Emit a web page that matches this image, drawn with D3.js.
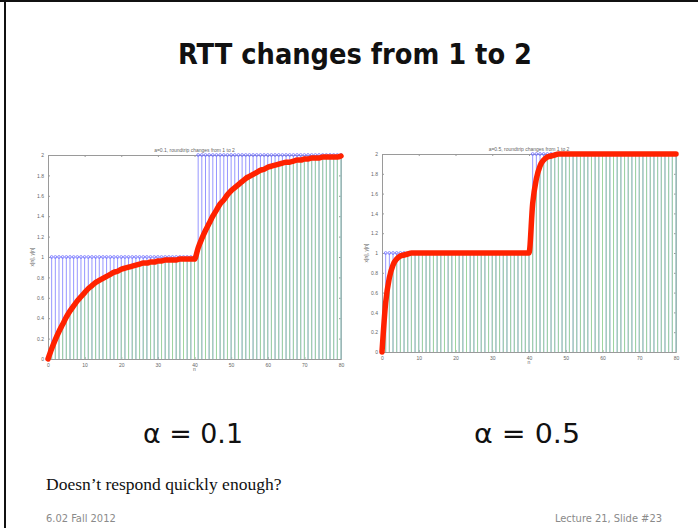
<!doctype html>
<html>
<head>
    <meta charset="utf-8">
    <style>
        body { margin: 0; background: #fff; }
        svg { display: block; }
        .slideTitle { font-family: 'DejaVu Sans Condensed', 'DejaVu Sans'; font-weight: bold; font-size: 28px; fill: #111; }
        .alpha { font-family: 'DejaVu Sans Condensed', 'DejaVu Sans'; font-size: 27px; fill: #111; }
        .note { font-family: 'Liberation Serif', serif; font-size: 17.5px; fill: #111; }
        .footer { font-family: 'DejaVu Sans Condensed', 'DejaVu Sans'; font-size: 11px; fill: #8a8a8a; }
        .axis text { font-family: 'Liberation Sans', Arial; font-size: 5px; fill: #666; }
        .axis path, .axis line { stroke: #9a9a9a; stroke-width: 1; }
        .small { font-family: 'Liberation Sans', Arial; font-size: 5px; fill: #666; }
    </style>
    <script src="https://d3js.org/d3.v7.min.js"></script>
</head>
<body>
<script>
    // sample index n = 0..80
    var n = d3.range(0, 81);

    // input x[n]: RTT samples, 1 then 2 after n = 40
    var xInput = [0,
        1,1,1,1,1,1,1,1,1,1, 1,1,1,1,1,1,1,1,1,1,
        1,1,1,1,1,1,1,1,1,1, 1,1,1,1,1,1,1,1,1,1,
        2,2,2,2,2,2,2,2,2,2, 2,2,2,2,2,2,2,2,2,2,
        2,2,2,2,2,2,2,2,2,2, 2,2,2,2,2,2,2,2,2,2];

    // smoothed estimate y[n], alpha = 0.1
    var ySlow = [0,
        0.10,0.19,0.27,0.34,0.41,0.47,0.52,0.57,0.61,0.65,
        0.69,0.72,0.75,0.77,0.79,0.81,0.83,0.85,0.86,0.88,
        0.89,0.90,0.91,0.92,0.93,0.94,0.94,0.95,0.95,0.96,
        0.96,0.97,0.97,0.97,0.97,0.98,0.98,0.98,0.98,0.98,
        1.09,1.18,1.26,1.33,1.40,1.46,1.52,1.56,1.61,1.65,
        1.68,1.71,1.74,1.77,1.79,1.81,1.83,1.85,1.86,1.88,
        1.89,1.90,1.91,1.92,1.93,1.93,1.94,1.95,1.95,1.96,
        1.96,1.97,1.97,1.97,1.98,1.98,1.98,1.98,1.98,1.99];

    // smoothed estimate y[n], alpha = 0.5
    var yFast = [0,
        0.50,0.75,0.88,0.94,0.97,0.98,0.99,1.00,1.00,1.00,
        1.00,1.00,1.00,1.00,1.00,1.00,1.00,1.00,1.00,1.00,
        1.00,1.00,1.00,1.00,1.00,1.00,1.00,1.00,1.00,1.00,
        1.00,1.00,1.00,1.00,1.00,1.00,1.00,1.00,1.00,1.00,
        1.50,1.75,1.88,1.94,1.97,1.98,1.99,2.00,2.00,2.00,
        2.00,2.00,2.00,2.00,2.00,2.00,2.00,2.00,2.00,2.00,
        2.00,2.00,2.00,2.00,2.00,2.00,2.00,2.00,2.00,2.00,
        2.00,2.00,2.00,2.00,2.00,2.00,2.00,2.00,2.00,2.00];

    var xTicks = [0, 10, 20, 30, 40, 50, 60, 70, 80];
    var yTicks = [0, 0.2, 0.4, 0.6, 0.8, 1, 1.2, 1.4, 1.6, 1.8, 2];

    var svg = d3.select("body").append("svg").attr("width", 698).attr("height", 528);

    // slide frame (only top and left edges show)
    svg.append("line").attr("x1", 0).attr("x2", 698).attr("y1", 1).attr("y2", 1)
        .attr("stroke", "#111").attr("stroke-width", 2);
    svg.append("line").attr("x1", 5).attr("x2", 5).attr("y1", 0).attr("y2", 528)
        .attr("stroke", "#111").attr("stroke-width", 2);

    svg.append("text").attr("class", "slideTitle")
        .attr("x", 178).attr("y", 64)
        .attr("textLength", 354).attr("lengthAdjust", "spacingAndGlyphs")
        .text("RTT changes from 1 to 2");

    function stemPlot(opts, y) {
        var g = svg.append("g");
        var xs = d3.scaleLinear().domain([0, 80]).range([opts.left, opts.right]);
        var ys = d3.scaleLinear().domain([0, 2]).range([opts.bottom, opts.top]);

        // box + ticks (inside, matlab style)
        g.append("g").attr("class", "axis")
            .attr("transform", "translate(0," + opts.bottom + ")")
            .call(d3.axisBottom(xs).tickValues(xTicks).tickSize(-2).tickSizeOuter(0).tickPadding(4));
        g.append("g").attr("class", "axis")
            .attr("transform", "translate(0," + opts.top + ")")
            .call(d3.axisTop(xs).tickValues(xTicks).tickSize(-2).tickSizeOuter(0).tickFormat(""));
        g.append("g").attr("class", "axis")
            .attr("transform", "translate(" + opts.left + ",0)")
            .call(d3.axisLeft(ys).tickValues(yTicks).tickSize(-2).tickSizeOuter(0).tickPadding(4).tickFormat(d3.format("~g")));
        g.append("g").attr("class", "axis")
            .attr("transform", "translate(" + opts.right + ",0)")
            .call(d3.axisRight(ys).tickValues(yTicks).tickSize(-2).tickSizeOuter(0).tickFormat(""));

        // x[n] stems
        g.selectAll(".xstem").data(n).enter().append("line")
            .attr("x1", function(d) { return xs(d); })
            .attr("x2", function(d) { return xs(d); })
            .attr("y1", ys(0))
            .attr("y2", function(d) { return ys(xInput[d]); })
            .attr("stroke", "#9696ff").attr("stroke-width", 1);
        g.selectAll(".xmark").data(n).enter().append("circle")
            .attr("cx", function(d) { return xs(d); })
            .attr("cy", function(d) { return ys(xInput[d]); })
            .attr("r", 1.4)
            .attr("fill", "none").attr("stroke", "#7070ff").attr("stroke-width", 0.8);

        // y[n] stems
        g.selectAll(".ystem").data(n).enter().append("line")
            .attr("x1", function(d) { return xs(d); })
            .attr("x2", function(d) { return xs(d); })
            .attr("y1", ys(0))
            .attr("y2", function(d) { return ys(y[d]); })
            .attr("stroke", "#9fd69f").attr("stroke-width", 1);
        g.selectAll(".ymark").data(n).enter().append("circle")
            .attr("cx", function(d) { return xs(d); })
            .attr("cy", function(d) { return ys(y[d]); })
            .attr("r", 1.4)
            .attr("fill", "none").attr("stroke", "#6fbf6f").attr("stroke-width", 0.8);

        // red trace
        var line = d3.line()
            .x(function(d) { return xs(d); })
            .y(function(d) { return ys(y[d]); })
            .curve(d3.curveMonotoneX);
        g.append("path").datum(n)
            .attr("d", line)
            .attr("fill", "none")
            .attr("stroke", "#ff2200")
            .attr("stroke-width", 5.5)
            .attr("stroke-linejoin", "round")
            .attr("stroke-linecap", "round");

        // labels
        g.append("text").attr("class", "small")
            .attr("x", (opts.left + opts.right) / 2).attr("y", opts.top - 3)
            .attr("text-anchor", "middle")
            .text(opts.title);
        g.append("text").attr("class", "small")
            .attr("transform", "translate(" + (opts.left - 14) + "," + ((opts.top + opts.bottom) / 2) + ") rotate(-90)")
            .attr("text-anchor", "middle")
            .text("x[n], y[n]");
        g.append("text").attr("class", "small")
            .attr("x", (opts.left + opts.right) / 2).attr("y", opts.bottom + 12)
            .attr("text-anchor", "middle")
            .text("n");
    }

    stemPlot({left: 48, right: 341, top: 155, bottom: 359, title: "a=0.1, roundtrip changes from 1 to 2"}, ySlow);
    stemPlot({left: 382, right: 676, top: 154, bottom: 352, title: "a=0.5, roundtrip changes from 1 to 2"}, yFast);

    svg.append("text").attr("class", "alpha")
        .attr("x", 143).attr("y", 443)
        .attr("textLength", 100).attr("lengthAdjust", "spacingAndGlyphs")
        .text("\u03b1 = 0.1");
    svg.append("text").attr("class", "alpha")
        .attr("x", 474).attr("y", 443)
        .attr("textLength", 106).attr("lengthAdjust", "spacingAndGlyphs")
        .text("\u03b1 = 0.5");

    svg.append("text").attr("class", "note")
        .attr("x", 46).attr("y", 490)
        .text("Doesn\u2019t respond quickly enough?");

    svg.append("text").attr("class", "footer")
        .attr("x", 46).attr("y", 522)
        .text("6.02 Fall 2012");
    svg.append("text").attr("class", "footer")
        .attr("x", 662).attr("y", 522).attr("text-anchor", "end")
        .text("Lecture 21, Slide #23");
</script>
</body>
</html>
